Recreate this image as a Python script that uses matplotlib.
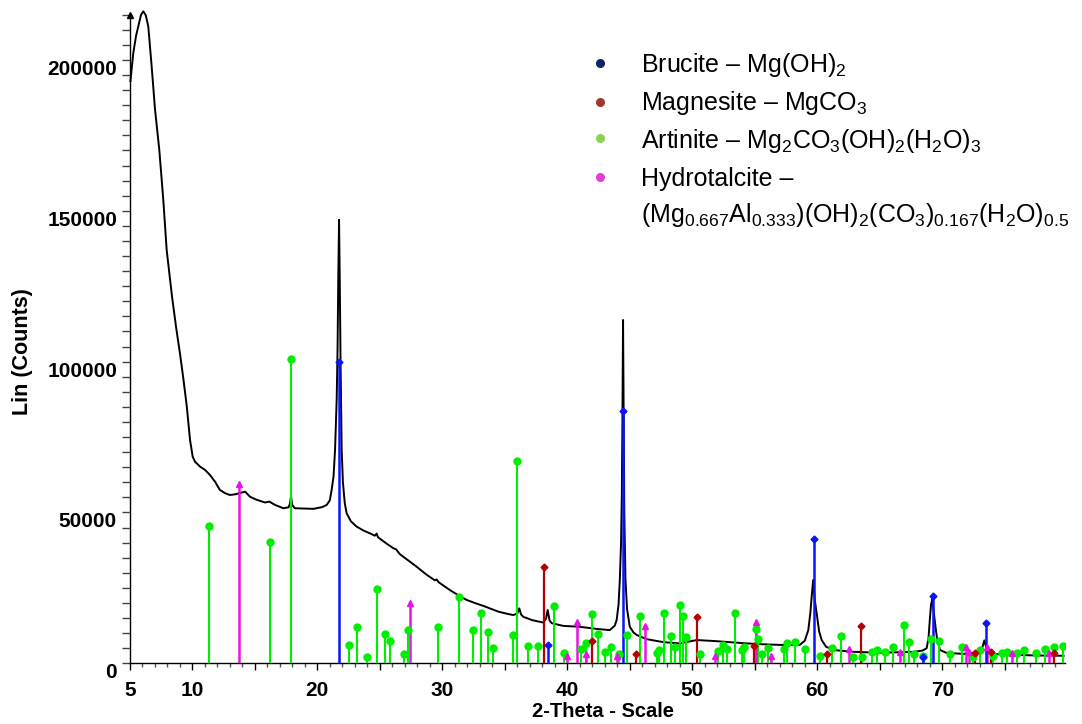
import matplotlib
matplotlib.use("Agg")
import matplotlib.pyplot as plt
from matplotlib.ticker import FixedLocator, MultipleLocator, FuncFormatter

plt.rcParams["font.family"] = "Liberation Sans"
plt.rcParams["mathtext.fontset"] = "custom"
plt.rcParams["mathtext.rm"] = "Liberation Sans"
plt.rcParams["mathtext.default"] = "regular"

# measured pattern (2-theta, counts)
two_theta = [5.05, 5.28, 5.5, 5.68, 5.9, 6.08, 6.28, 6.48, 6.75, 7.02, 7.36, 7.68, 7.95,
             8.38, 8.7, 9.02, 9.28, 9.55, 9.82, 10.03, 10.22, 10.62, 11.02, 11.42, 11.82,
             12.2, 12.62, 13.0, 13.42, 13.95, 14.22, 14.62, 15.15, 15.82, 16.16, 16.62,
             17.28, 17.7, 17.82, 17.9, 17.98, 18.2, 19.0, 19.7, 20.4, 20.75, 21.0, 21.15,
             21.3, 21.42, 21.55, 21.62, 21.68, 21.74, 21.8, 21.86, 21.95, 22.05, 22.2,
             22.35, 22.7, 23.15, 23.7, 24.2, 24.6, 24.75, 24.85, 25.5, 26.1, 26.3, 26.6,
             27.3, 27.95, 28.7, 29.4, 29.55, 29.7, 30.6, 31.3, 31.95, 32.6, 33.3, 34.5,
             35.2, 35.68, 36.0, 36.16, 36.3, 36.48, 37.2, 38.08, 38.3, 38.43, 38.58, 38.75,
             39.68, 41.0, 42.35, 43.4, 43.8, 43.95, 44.1, 44.2, 44.3, 44.36, 44.41, 44.46,
             44.51, 44.56, 44.65, 44.78, 45.0, 45.3, 45.55, 46.35, 47.7, 49.0, 50.35, 51.7,
             53.0, 54.35, 55.7, 57.0, 58.6, 59.0, 59.28, 59.45, 59.55, 59.67, 59.8, 59.95,
             60.15, 60.35, 60.7, 61.3, 62.9, 65.0, 67.7, 68.4, 68.75, 68.9, 69.0, 69.1,
             69.2, 69.3, 69.42, 69.6, 69.82, 70.3, 71.7, 73.0, 73.2, 73.36, 73.5, 73.68,
             74.0, 75.7, 77.5, 79.7]
counts = [193000, 202300, 208000, 211100, 215000, 216100, 214800, 211100, 197800, 183500,
          170200, 153600, 137000, 121500, 111500, 102500, 94500, 85500, 74000, 68500,
          66800, 65200, 64100, 62400, 60200, 57500, 56400, 55800, 56000, 56600, 56900,
          55200, 54200, 53300, 53600, 52500, 51400, 51700, 53000, 55500, 52600, 51400,
          51300, 51200, 51800, 52500, 54000, 57500, 62000, 70700, 87300, 104000, 128000,
          147000, 126000, 100000, 70700, 60000, 53000, 49700, 47000, 45300, 44000, 43100,
          42300, 43000, 41800, 39800, 38100, 37800, 36200, 34000, 32000, 29500, 27500,
          27800, 26900, 24300, 22500, 21000, 20000, 19000, 17100, 16400, 16000, 16500,
          18200, 16200, 15400, 14300, 13500, 14800, 17700, 14200, 13300, 12400, 12100,
          11400, 11000, 12500, 14400, 19500, 27600, 40000, 55000, 80000, 113800, 80000,
          50000, 28000, 18000, 12100, 10200, 9400, 8000, 7000, 6600, 7700, 7400, 7000,
          6600, 6300, 6100, 6100, 7500, 11000, 17000, 22100, 27600, 21000, 16600, 10500,
          7700, 5500, 4400, 3800, 3500, 3800, 4200, 5000, 8500, 14400, 19500, 21200,
          17500, 13300, 7500, 4400, 3500, 3100, 3800, 5200, 7600, 5500, 3800, 3100, 2800,
          2600, 2500]

# reference patterns (position, intensity)
brucite_pos = [21.74, 38.43, 44.46, 59.76, 68.43, 69.23, 73.47]
brucite_int = [100000, 6000, 83500, 41100, 2200, 22300, 13300]

magnesite_pos = [38.16, 41.95, 45.47, 50.4, 54.94, 60.75, 63.47, 72.6, 73.87, 78.94]
magnesite_int = [32000, 7400, 3200, 15500, 5800, 3200, 12500, 3300, 3800, 3300]

artinite_pos = [11.34, 16.22, 17.9, 22.56, 23.2, 23.98, 24.8, 25.39, 25.82, 26.9, 27.28,
                29.66, 31.34, 32.48, 33.07, 33.68, 34.08, 35.68, 35.96, 36.83, 37.63,
                38.94, 39.74, 41.07, 41.5, 41.95, 42.46, 42.99, 43.52, 44.16, 44.8, 45.84,
                47.15, 47.31, 47.76, 48.3, 48.62, 48.99, 49.23, 49.5, 50.62, 52.03, 52.43,
                52.75, 53.39, 53.95, 54.14, 55.1, 55.28, 55.55, 56.08, 57.34, 57.55, 58.22,
                59.02, 60.22, 61.2, 61.9, 62.88, 63.55, 64.35, 64.8, 65.42, 66.08, 66.94,
                67.31, 67.74, 68.43, 69.07, 69.76, 70.62, 71.55, 72.48, 73.02, 74.08, 74.75,
                75.15, 75.95, 76.54, 77.5, 78.22, 78.94, 79.63]
artinite_int = [45600, 40200, 100900, 6100, 12000, 2200, 24600, 9600, 7300, 3000, 10900,
                12000, 22100, 10900, 16700, 10500, 5000, 9300, 67100, 5700, 5600,
                19000, 3300, 4700, 6600, 16300, 9700, 3800, 5300, 3100, 9300, 15700,
                3500, 4400, 16600, 9000, 5500, 19200, 15800, 8600, 3100, 4200, 6100,
                4600, 16800, 4400, 5500, 11300, 8000, 3100, 5000, 4600, 6600, 7000,
                4700, 2400, 5200, 9200, 2200, 2200, 3800, 4400, 3800, 5500, 12700,
                7000, 3100, 2400, 8100, 7500, 3000, 5500, 2200, 4400, 2400, 3300,
                3600, 3500, 4400, 3500, 4800, 5500, 5700]

hydrotalcite_pos = [13.74, 27.39, 40.0, 40.8, 41.5, 43.95, 46.19, 51.8, 55.1, 56.27, 62.5,
                    66.6, 71.87, 72.1, 73.55, 75.55, 78.5]
hydrotalcite_int = [59500, 20100, 2400, 13800, 3000, 2400, 12400, 2400, 13800, 2400, 4600,
                    3800, 5300, 3800, 5500, 3300, 3300]

fig = plt.figure(figsize=(10.82, 7.24), dpi=100)
ax = fig.add_axes([0.11996, 0.08384, 0.86415, 0.89586])

ax.plot(two_theta, counts, color="black", lw=1.4, zorder=2, clip_on=False)

sticks = [
    (artinite_pos, artinite_int, "#00ee00", "o", 5.0, 1.5),
    (hydrotalcite_pos, hydrotalcite_int, "#e614e6", "^", 5.0, 1.8),
    (magnesite_pos, magnesite_int, "#b40000", "D", 3.5, 1.6),
    (brucite_pos, brucite_int, "#0a14ff", "D", 3.5, 1.8),
]
for pos, inten, col, mk, ms, lw in sticks:
    ax.vlines(pos, 0, inten, colors=col, lw=lw, zorder=3)
    ax.plot(pos, inten, ls="none", marker=mk, ms=ms, color=col, mec=col, zorder=4)

ax.set_xlim(5, 79.8)
ax.set_ylim(0, 215000)

for s in ["top", "right"]:
    ax.spines[s].set_visible(False)
for s in ["left", "bottom"]:
    ax.spines[s].set_linewidth(1.0)

# axis arrow at top of the counts axis
ax.plot(0, 1, marker="^", ms=5, color="black", transform=ax.transAxes, clip_on=False)

xt = list(range(5, 80, 5))
ax.xaxis.set_major_locator(FixedLocator(xt))
ax.set_xticklabels([str(t) if (t == 5 or t % 10 == 0) else "" for t in xt])
ax.xaxis.set_minor_locator(MultipleLocator(1))
ax.tick_params(axis="x", which="major", direction="out", length=5, width=1,
               pad=8, labelsize=15)
ax.tick_params(axis="x", which="minor", direction="out", length=3, width=1, color="#555555")

ax.yaxis.set_major_locator(MultipleLocator(50000))
ax.yaxis.set_minor_locator(MultipleLocator(5000))
ax.yaxis.set_major_formatter(FuncFormatter(lambda v, p: "%d" % v))
ax.tick_params(axis="y", which="both", direction="out", length=5.8, width=1,
               color="#444444", pad=3.4, labelsize=15)
for lab in ax.get_xticklabels() + ax.get_yticklabels():
    lab.set_fontweight("bold")
for lab in ax.get_yticklabels():
    lab.set_va("top")

ax.set_xlabel("2-Theta - Scale", fontsize=14.5, fontweight="bold")
ax.xaxis.set_label_coords(0.506, -0.0597)
ax.set_ylabel("Lin (Counts)", fontsize=15.5, fontweight="bold")
ax.yaxis.set_label_coords(-0.103, 0.48)

# phase key
key_rows = [
    ("#0b2566", "Brucite – $\\mathregular{Mg(OH)_2}$", 63.3, 71.7),
    ("#a0372f", "Magnesite – $\\mathregular{MgCO_3}$", 101.7, 110.0),
    ("#8cd250", "Artinite – $\\mathregular{Mg_2CO_3(OH)_2(H_2O)_3}$", 138.3, 148.3),
    ("#e63cd2", "Hydrotalcite –", 176.7, 185.7),
]
H = 724.0
for col, txt, ym, yb in key_rows:
    fig.lines.append(plt.Line2D([600 / 1082.0], [1 - ym / H], marker="o", ms=5.5,
                                color=col, ls="none", transform=fig.transFigure))
    fig.text(641 / 1082.0, 1 - yb / H, txt, fontsize=18, va="baseline", ha="left")
fig.text(641 / 1082.0, 1 - 221.7 / H,
         "$\\mathregular{(Mg_{0.667}Al_{0.333})(OH)_2(CO_3)_{0.167}(H_2O)_{0.5}}$",
         fontsize=18, va="baseline", ha="left")

fig.savefig("out.png", dpi=100)
